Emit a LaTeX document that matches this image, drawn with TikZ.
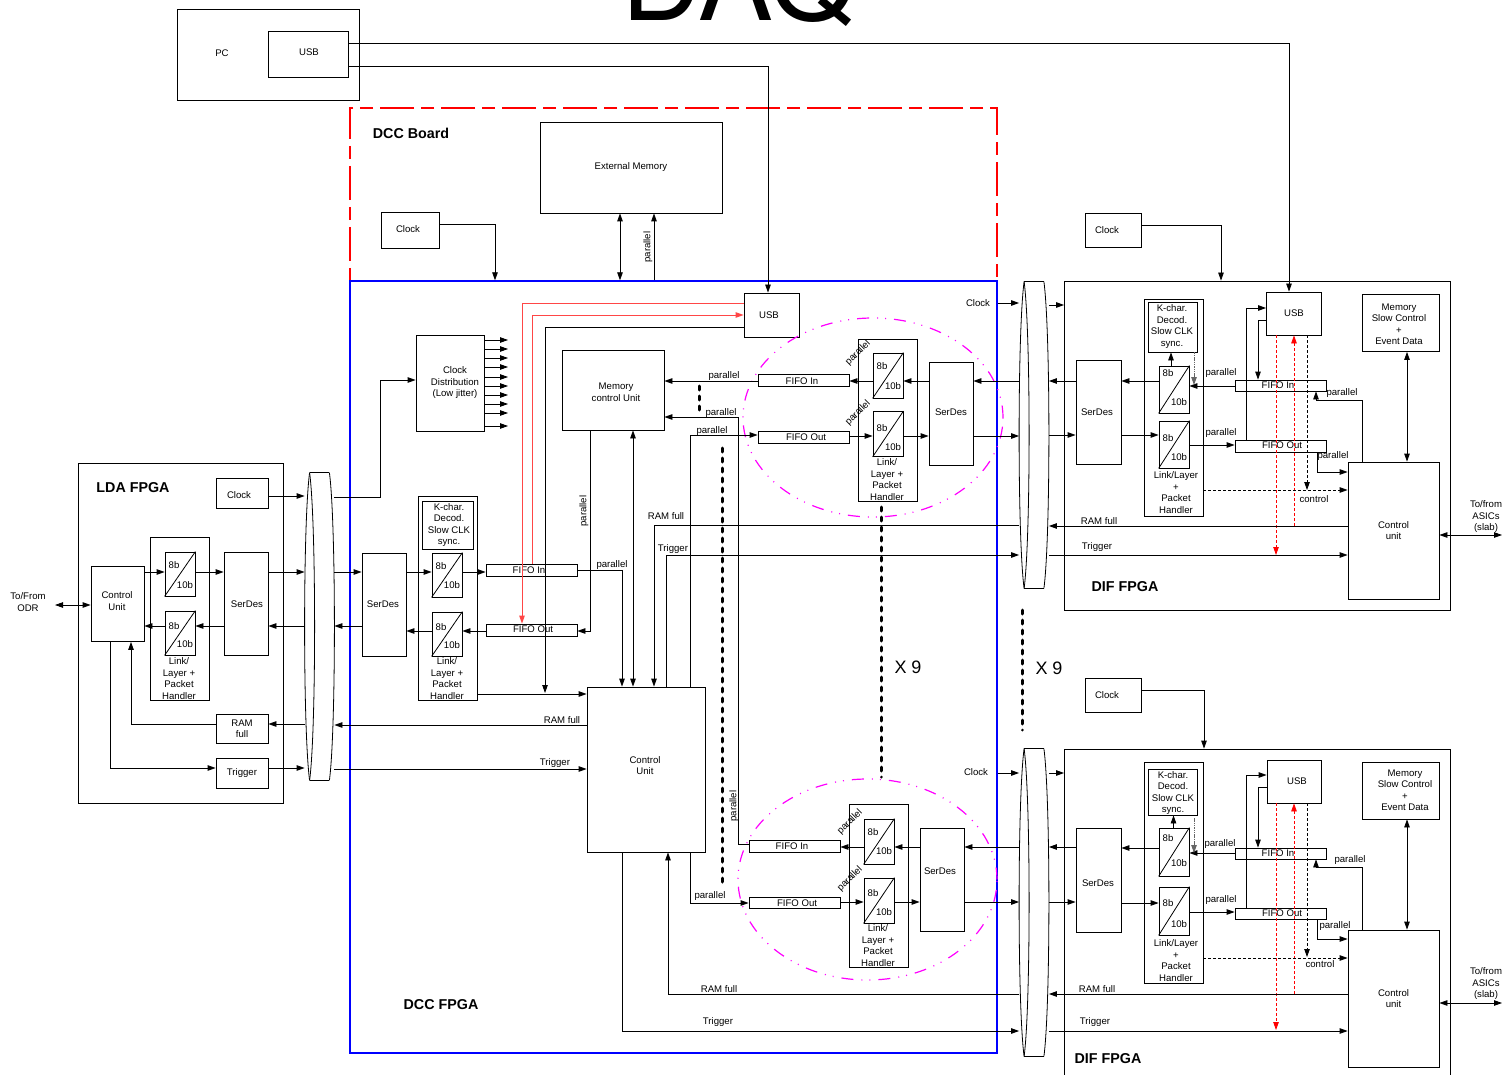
\documentclass[tikz,border=0pt]{standalone}
\usepackage{fontspec}
\setmainfont{Liberation Sans}
\newfontfamily\headfont{TeX Gyre Heros}
\usetikzlibrary{arrows.meta,positioning,shapes.geometric}

\definecolor{ringmag}{RGB}{255,0,255}
\definecolor{boardred}{RGB}{255,0,0}
\definecolor{wirered}{RGB}{255,70,70}
\newcommand{\lblfont}{\fontsize{9.6}{11.5}\selectfont}
\tikzset{
  wh/.style 2 args={minimum width=#1pt, minimum height=#2pt},
  blk/.style={draw, inner sep=0pt, align=center, font=\lblfont},
  lbl/.style={inner sep=0pt, align=center, font=\lblfont},
  title/.style={inner sep=0pt, font=\fontsize{14.3}{16}\selectfont\bfseries},
  times/.style={inner sep=0pt, font=\fontsize{18}{20}\selectfont},
  ring/.style={draw=ringmag, ellipse, inner sep=0pt, line width=1.2pt, dash pattern=on 12pt off 8pt on 1pt off 7pt on 1pt off 8pt},
  dots/.style={-, line width=3pt, line cap=round, dash pattern=on 4pt off 6pt},
  redwire/.style={wirered, line width=0.9pt},
  greywire/.style={black!60, line width=0.9pt, dash pattern=on 1.5pt off 0.8pt},
  reddash/.style={red, dash pattern=on 3pt off 2pt},
  ctrlwire/.style={dash pattern=on 3pt off 2pt},
}
\newcommand{\codec}[6]{%
  \node[blk, wh={30}{#4}] (#1) at (#2,#3) {};
  \draw[-] (#1.south west) -- (#1.north east);
  \node[lbl] (#1a) at ([xshift=-6pt,yshift=#5pt]#1.center) {8b};
  \node[lbl] (#1b) at ([xshift=5pt,yshift=#6pt]#1.center) {10b};
}
\newcommand{\bundle}[3]{%
  \node[wh={29}{#3}, inner sep=0pt] (#1) at (#2) {};
  \draw[-] ([xshift=5pt]#1.north west) .. controls ([xshift=-1.67pt,yshift=-50pt]#1.north west) and ([xshift=-1.67pt,yshift=50pt]#1.south west) .. ([xshift=5pt]#1.south west);
  \draw[-] ([xshift=5pt]#1.north west) .. controls ([xshift=11.67pt,yshift=-50pt]#1.north west) and ([xshift=11.67pt,yshift=50pt]#1.south west) .. ([xshift=5pt]#1.south west);
  \draw[-] ([xshift=-5pt]#1.north east) .. controls ([xshift=1.67pt,yshift=-50pt]#1.north east) and ([xshift=1.67pt,yshift=50pt]#1.south east) .. ([xshift=-5pt]#1.south east);
  \draw[-] ([xshift=5pt]#1.north west) -- ([xshift=-5pt]#1.north east);
  \draw[-] ([xshift=5pt]#1.south west) -- ([xshift=-5pt]#1.south east);
}

\begin{document}
\begin{tikzpicture}[x=1pt, y=-1pt, ->, >={Stealth[length=8pt,width=5.5pt,inset=0pt]}, line width=0.8pt]
\useasboundingbox (0,0) rectangle (1502,1075);
\node[inner sep=0pt, anchor=base, font=\fontsize{112}{112}\selectfont\headfont] (daq) at (739,21) {DAQ};

% PC
\node[blk, wh={182}{91}] (pc) at (268,54.5) {};
\node[lbl] (pctext) at (222,53) {PC};
\node[blk, wh={80}{46}] (pcusb) at (308,54) {};
\node[lbl] (pcusbtext) at (309,52) {USB};

% DCC board
\node[draw=boardred, inner sep=0pt, line width=1.3pt, dash pattern=on 34pt off 7pt on 13pt off 7pt, wh={647}{173}] (board) at (673.5,194.5) {};
\node[draw=blue, inner sep=0pt, line width=1.3pt, wh={647}{772}] (dcc) at (673.5,667) {};
\node[title] (boardtext) at (411,133) {DCC Board};
\node[title] (dcctext) at (441,1005) {DCC FPGA};
\node[blk, wh={182}{91}] (extmem) at (631,167.5) {External Memory};
\node[blk, wh={58}{36}] (clkb) at (410,230) {};
\node[lbl] (clkbtext) at (408,229) {Clock};
\draw (clkb.east |- 0,224) -| (dcc.north -| 495,0);
\draw[<->] (extmem.south -| 620,0) -- (dcc.north -| 620,0);
\draw (dcc.north -| 654,0) -- (extmem.south -| 654,0);
\node[lbl, rotate=90] (parext) at (648,247) {parallel};

% LDA
\node[blk, wh={205}{340}] (lda) at (180.5,633) {};
\node[title] (ldatext) at (133,488) {LDA FPGA};
\node[blk, wh={52}{30}] (clkl) at (242,493) {};
\node[lbl] (clkltext) at (239,495) {Clock};
\node[blk, wh={53}{75}] (ctll) at (117.5,604) {};
\node[lbl] (ctlltext) at (117,601) {Control\\Unit};
\node[lbl] (odr) at (28,602) {To/From\\ODR};
\coordinate (odrend) at (55,605);
\node[blk, wh={59}{163}] (linkl) at (179.5,618.5) {};
\codec{cl1}{180}{574}{44}{9}{-11}
\codec{cl2}{180}{633}{44}{7}{-11}
\node[lbl] (linkltext) at (179,678.5) {Link/\\Layer +\\Packet\\Handler};
\node[blk, wh={44}{103}] (serl) at (246,603.5) {};
\node[lbl] (serltext) at (247,604) {SerDes};
\node[blk, wh={52}{29}] (raml) at (242,728.5) {RAM\\full};
\node[blk, wh={52}{30}] (trgl) at (242,773) {Trigger};
\bundle{busa}{319.5,626.5}{307}

\draw[<->] (odrend) -- (ctll.west |- odrend);
\draw (ctll.east |- 0,572) -- (cl1.west |- 0,572);
\draw (cl1.east |- 0,572) -- (serl.west |- 0,572);
\draw (serl.east |- 0,572) -- (busa.west |- 0,572);
\draw (busa.west |- 0,626) -- (serl.east |- 0,626);
\draw (serl.west |- 0,626) -- (cl2.east |- 0,626);
\draw (cl2.west |- 0,626) -- (ctll.east |- 0,626);
\draw (clkl.east |- 0,496) -- (busa.west |- 0,496);
\draw (busa.west |- 0,724) -- (raml.east |- 0,724);
\draw (raml.west |- 0,724) -| (ctll.south -| 131,0);
\draw (ctll.south -| 110,0) |- (trgl.west |- 0,768);
\draw (trgl.east |- 0,768) -- (busa.west |- 0,768);

% DCC, left side
\node[blk, wh={44}{103}] (serd) at (384,604.5) {};
\node[lbl] (serdtext) at (383,604) {SerDes};
\node[blk, wh={59}{204}] (linkd) at (447.5,598) {};
\node[blk, wh={51}{48}] (kchard) at (447.5,525) {};
\node[lbl] (kchardtext) at (449,525) {K-char.\\Decod.\\Slow CLK\\sync.};
\codec{cd1}{447}{575}{44}{9}{-10}
\codec{cd2}{447}{634}{44}{7}{-11}
\node[lbl] (linkdtext) at (447,678.5) {Link/\\Layer +\\Packet\\Handler};
\node[blk, wh={91}{12}] (fifoid) at (531.5,570) {};
\node[lbl] (fifoidtext) at (529,570) {FIFO In};
\node[blk, wh={91}{12}] (fifood) at (531.5,630) {};
\node[lbl] (fifoodtext) at (533,629.5) {FIFO Out};
\node[blk, wh={68}{96}] (clkdist) at (450,383) {};
\node[lbl] (clkdisttext) at (455,383) {Clock\\Distribution\\(Low jitter)};
\node[blk, wh={102}{80}] (memctl) at (613,390) {};
\node[lbl] (memctltext) at (616,392) {Memory\\control Unit};
\node[blk, wh={118}{165}] (ctld) at (646,769.5) {};
\node[lbl] (ctldtext) at (645,765.5) {Control\\Unit};
\node[blk, wh={55}{44}] (usbd) at (771.5,315) {};
\node[lbl] (usbdtext) at (769,315) {USB};

\draw (busa.east |- 0,572) -- (serd.west |- 0,572);
\draw (serd.west |- 0,626) -- (busa.east |- 0,626);
\draw (serd.east |- 0,572) -- (cd1.west |- 0,572);
\draw (cd1.east |- 0,572) -- (fifoid.west |- 0,572);
\draw (fifood.west |- 0,631) -- (cd2.east |- 0,631);
\draw (cd2.west |- 0,631) -- (serd.east |- 0,631);
\draw (busa.east |- 0,497) -| (380,380) -- (clkdist.west |- 0,380);
\foreach \i/\y in {1/340,2/349,3/358,4/367,5/377,6/386,7/395,8/404,9/413,10/426} {
  \coordinate (clkout\i) at (508,\y);
  \draw (clkdist.east |- clkout\i) -- (clkout\i);
}
\draw (linkd.east |- 0,694) -- (ctld.west |- 0,694);
\draw (ctld.west |- 0,725) -- (busa.east |- 0,725);
\node[lbl] (ramd) at (562,720) {RAM full};
\draw (busa.east |- 0,769) -- (ctld.west |- 0,769);
\node[lbl] (trgd) at (555,763) {Trigger};
\draw (fifoid.east |- 0,570) -| (ctld.north -| 622,0);
\node[lbl] (parfi) at (612,565) {parallel};
\draw (memctl.south -| 590,0) |- (fifood.east |- 0,631);
\node[lbl, rotate=90] (parmem) at (584,511) {parallel};
\draw[<->] (memctl.south -| 633,0) -- (ctld.north -| 633,0);
\draw[redwire] (usbd.west |- 0,303) -| (fifood.north -| 522,0);
\draw[redwire] (fifoid.north -| 532,0) |- (usbd.west |- 0,315);
\draw (usbd.west |- 0,327) -| (545,693);
\draw (pcusb.east |- 0,66) -| (usbd.north -| 768,0);

% upper link on DCC
\node[blk, wh={59}{162}] (linku) at (887.5,420) {};
\codec{cu1}{888}{375.5}{45}{9.5}{-10.5}
\codec{cu2}{888}{434}{45}{6}{-13}
\node[lbl] (linkutext) at (887,479.5) {Link/\\Layer +\\Packet\\Handler};
\node[blk, wh={44}{103}] (seru) at (951,413.5) {};
\node[lbl] (serutext) at (951,412) {SerDes};
\node[blk, wh={91}{12}] (fifoiu) at (803.5,380) {};
\node[lbl] (fifoiutext) at (802,381) {FIFO In};
\node[blk, wh={91}{12}] (fifoou) at (803.5,437) {};
\node[lbl] (fifooutext) at (806,437) {FIFO Out};
\bundle{busb}{1034,435}{306}
\node[ring, wh={260}{199}] (ringu) at (873,417.5) {};

\draw (busb.west |- 0,381) -- (seru.east |- 0,381);
\draw (seru.west |- 0,381) -- (cu1.east |- 0,381);
\draw (cu1.west |- 0,381) -- (fifoiu.east |- 0,381);
\draw (fifoiu.west |- 0,381) -- (memctl.east |- 0,381);
\node[lbl] (paru1) at (724,376) {parallel};
\draw (fifoou.east |- 0,436) -- (cu2.west |- 0,436);
\draw (cu2.east |- 0,436) -- (seru.west |- 0,436);
\draw (seru.east |- 0,436) -- (busb.west |- 0,436);
\node[lbl, rotate=45] (paru2) at (858,353) {parallel};
\node[lbl, rotate=45] (paru3) at (858,413) {parallel};

% lower link on DCC
\node[blk, wh={59}{163}] (linkn) at (878.5,885.5) {};
\codec{cn1}{879}{841.5}{45}{9.5}{-9.5}
\codec{cn2}{879}{900.5}{45}{7.5}{-11.5}
\node[lbl] (linkntext) at (878,945.5) {Link/\\Layer +\\Packet\\Handler};
\node[blk, wh={44}{103}] (sern) at (942,879.5) {};
\node[lbl] (serntext) at (940,871) {SerDes};
\node[blk, wh={91}{12}] (fifoin) at (794.5,846) {};
\node[lbl] (fifointext) at (792,846.5) {FIFO In};
\node[blk, wh={91}{11}] (fifoon) at (794.5,902.5) {};
\node[lbl] (fifoontext) at (797,903) {FIFO Out};
\bundle{busc}{1034,902.5}{307}
\node[ring, wh={259}{201}] (ringn) at (867.5,879.5) {};

\draw (busc.west |- 0,847) -- (sern.east |- 0,847);
\draw (sern.west |- 0,847) -- (cn1.east |- 0,847);
\draw (cn1.west |- 0,847) -- (fifoin.east |- 0,847);
\draw (fifoon.east |- 0,902) -- (cn2.west |- 0,902);
\draw (cn2.east |- 0,902) -- (sern.west |- 0,902);
\draw (sern.east |- 0,902) -- (busc.west |- 0,902);
\node[lbl, rotate=45] (parn2) at (850,822) {parallel};
\node[lbl, rotate=45] (parn3) at (850,879) {parallel};

% DCC wires between links
\draw (fifoin.west |- 0,844) -| (738,417) -- (memctl.east |- 0,417);
\node[lbl] (parw1) at (721,413) {parallel};
\node[lbl, rotate=90] (parw2) at (734,806) {parallel};
\draw (ctld.north -| 690,0) |- (fifoou.west |- 0,435);
\node[lbl] (parw3) at (712,431) {parallel};
\draw (ctld.south -| 690,0) |- (fifoon.west |- 0,903);
\node[lbl] (parw4) at (710,896) {parallel};
\draw (busb.west |- 0,525) -| (ctld.north -| 654,0);
\node[lbl] (ramw1) at (666,516) {RAM full};
\draw (ctld.north -| 666,0) |- (busb.west |- 0,555);
\node[lbl] (trgw1) at (673,549) {Trigger};
\draw (busc.west |- 0,994) -| (ctld.south -| 668,0);
\node[lbl] (ramw2) at (719,989) {RAM full};
\draw (ctld.south -| 622,0) |- (busc.west |- 0,1031);
\node[lbl] (trgw2) at (718,1022) {Trigger};
\draw (dcc.east |- 0,303) -- (busb.west |- 0,303);
\node[lbl] (clkw1) at (978,303) {Clock};
\draw (dcc.east |- 0,773) -- (busc.west |- 0,773);
\node[lbl] (clkw2) at (976,772) {Clock};
\draw[dots] (699,386) -- (699,412);
\draw[dots] (722,448) -- (722,885);
\draw[dots] (881,507) -- (881,777);
\draw[dots] (1022,610) -- (1022,730);
\node[times] (xa) at (908,667) {X 9};
\node[times] (xb) at (1049,668) {X 9};

% DIF, upper
\node[blk, wh={386}{329}] (difu) at (1257.5,445.5) {};
\node[title] (difutext) at (1125,587) {DIF FPGA};
\node[blk, wh={56}{34}] (clku) at (1113,230) {};
\node[lbl] (clkutext) at (1107,230) {Clock};
\node[blk, wh={45}{104}] (seriu) at (1098.5,412) {};
\node[lbl] (seriutext) at (1097,412) {SerDes};
\node[blk, wh={59}{217}] (lnku) at (1173.5,407.5) {};
\node[blk, wh={49}{50}] (kcu) at (1172.5,327) {};
\node[lbl] (kcutext) at (1172,326.5) {K-char.\\Decod.\\Slow CLK\\sync.};
\codec{du1}{1174}{389.5}{47}{16.5}{-12.5}
\codec{du2}{1174}{444.5}{47}{6.5}{-12.5}
\node[lbl] (lnkutext) at (1176,492.5) {Link/Layer\\+\\Packet\\Handler};
\node[blk, wh={91}{11}] (fiu) at (1280.5,385.5) {};
\node[lbl] (fiutext) at (1278,385.5) {FIFO In};
\node[blk, wh={91}{12}] (fou) at (1280.5,446) {};
\node[lbl] (fouttext) at (1282,445) {FIFO Out};
\node[blk, wh={55}{43}] (usbu) at (1294,313.5) {USB};
\node[blk, wh={77}{57}] (memu) at (1400.5,323) {};
\node[lbl] (memutext) at (1399,324) {Memory\\Slow Control\\+\\Event Data};
\node[blk, wh={91}{137}] (ctlu) at (1393.5,530.5) {Control\\unit};
\node[lbl] (asu) at (1486,517) {To/from\\ASICs\\(slab)};
\coordinate (asuend) at (1502,535);

\draw (clku.east |- 0,225) -| (difu.north -| 1221,0);
\draw (pcusb.east |- 0,43) -| (usbu.north -| 1289,0);
\draw (busb.east |- 0,305) -- (difu.west |- 0,305);
\draw (seriu.west |- 0,381) -- (busb.east |- 0,381);
\draw (busb.east |- 0,435) -- (seriu.west |- 0,435);
\draw (du1.west |- 0,381) -- (seriu.east |- 0,381);
\draw (seriu.east |- 0,435) -- (du2.west |- 0,435);
\draw (fiu.west |- 0,386) -- (du1.east |- 0,386);
\node[lbl] (pard1) at (1221,373) {parallel};
\draw (du2.east |- 0,445) -- (fou.west |- 0,445);
\node[lbl] (pard2) at (1221,433) {parallel};
\draw (du1.north -| 1171,0) -- (kcu.south -| 1171,0);
\draw[greywire] (kcu.south -| 1194,0) -- (1194,385);
\draw (fou.north -| 1246,0) |- (usbu.west |- 0,308);
\draw (usbu.west |- 0,320) -| (fiu.north -| 1258,0);
\draw[reddash] (usbu.south -| 1276,0) -- (1276,555);
\draw[reddash] (1294,526) -- (usbu.south -| 1294,0);
\draw[ctrlwire] (usbu.south -| 1307,0) -- (1307,490);
\draw[ctrlwire] (lnku.east |- 0,490) -- (ctlu.west |- 0,490);
\node[lbl] (ctxt1) at (1314,499) {control};
\draw (ctlu.west |- 0,526) -- (busb.east |- 0,526);
\node[lbl] (ramd1) at (1099,521) {RAM full};
\draw (busb.east |- 0,555) -- (ctlu.west |- 0,555);
\node[lbl] (trgd1) at (1097,547) {Trigger};
\draw[<->] (memu.south -| 1407,0) -- (ctlu.north -| 1407,0);
\draw (ctlu.north -| 1362,0) |- (1316,400) -- (fiu.south -| 1316,0);
\node[lbl] (pard3) at (1342,393) {parallel};
\draw (fou.south -| 1317,0) |- (ctlu.west |- 0,472);
\node[lbl] (pard4) at (1333,456) {parallel};
\draw[<->] (ctlu.east |- asuend) -- (asuend);

% DIF, lower
\node[blk, wh={386}{340}] (difn) at (1257.5,919) {};
\node[title] (difntext) at (1108,1059) {DIF FPGA};
\node[blk, wh={56}{34}] (clkn) at (1113,695) {};
\node[lbl] (clkntext) at (1107,695) {Clock};
\node[blk, wh={45}{104}] (serin) at (1098.5,880) {};
\node[lbl] (serintext) at (1098,883) {SerDes};
\node[blk, wh={59}{221}] (lnkn) at (1173.5,872.5) {};
\node[blk, wh={49}{46}] (kcn) at (1172.5,792) {};
\node[lbl] (kcntext) at (1173,793) {K-char.\\Decod.\\Slow CLK\\sync.};
\codec{dn1}{1174}{852}{48}{14}{-11}
\codec{dn2}{1174}{911}{48}{8}{-13}
\node[lbl] (lnkntext) at (1176,960.5) {Link/Layer\\+\\Packet\\Handler};
\node[blk, wh={91}{11}] (fin) at (1280.5,853.5) {};
\node[lbl] (fintext) at (1278,853.5) {FIFO In};
\node[blk, wh={91}{11}] (fon) at (1280.5,913.5) {};
\node[lbl] (fontext) at (1282,913) {FIFO Out};
\node[blk, wh={54}{43}] (usbn) at (1294,781.5) {};
\node[lbl] (usbntext) at (1297,781) {USB};
\node[blk, wh={77}{57}] (memn) at (1400.5,790.5) {};
\node[lbl] (memntext) at (1405,790) {Memory\\Slow Control\\+\\Event Data};
\node[blk, wh={91}{137}] (ctln) at (1393.5,998.5) {Control\\unit};
\node[lbl] (asn) at (1486,984) {To/from\\ASICs\\(slab)};
\coordinate (asnend) at (1502,1003);

\draw (clkn.east |- 0,690) -| (difn.north -| 1204,0);
\draw (busc.east |- 0,773) -- (difn.west |- 0,773);
\draw (serin.west |- 0,847) -- (busc.east |- 0,847);
\draw (busc.east |- 0,902) -- (serin.west |- 0,902);
\draw (dn1.west |- 0,848) -- (serin.east |- 0,848);
\draw (serin.east |- 0,903) -- (dn2.west |- 0,903);
\draw (fin.west |- 0,853) -- (dn1.east |- 0,853);
\node[lbl] (parc1) at (1220,844) {parallel};
\draw (dn2.east |- 0,912) -- (fon.west |- 0,912);
\node[lbl] (parc2) at (1221,900) {parallel};
\draw (dn1.north -| 1173.5,0) -- (kcn.south -| 1173.5,0);
\draw[greywire] (1194,818) -- (1194,853);
\draw (fon.north -| 1246,0) |- (usbn.west |- 0,775);
\draw (usbn.west |- 0,787) -| (fin.north -| 1258,0);
\draw[reddash] (usbn.south -| 1276,0) -- (1276,1030);
\draw[reddash] (1294,994) -- (usbn.south -| 1294,0);
\draw[ctrlwire] (usbn.south -| 1307,0) -- (1307,957);
\draw[ctrlwire] (lnkn.east |- 0,958) -- (ctln.west |- 0,958);
\node[lbl] (ctxt2) at (1320,964) {control};
\draw (ctln.west |- 0,994) -- (busc.east |- 0,994);
\node[lbl] (ramd2) at (1097,989) {RAM full};
\draw (busc.east |- 0,1031) -- (ctln.west |- 0,1031);
\node[lbl] (trgd2) at (1095,1022) {Trigger};
\draw[<->] (memn.south -| 1407,0) -- (ctln.north -| 1407,0);
\draw (ctln.north -| 1362,0) |- (1316,867) -- (fin.south -| 1316,0);
\node[lbl] (parc3) at (1350,860) {parallel};
\draw (fon.south -| 1317,0) |- (ctln.west |- 0,939);
\node[lbl] (parc4) at (1335,926) {parallel};
\draw[<->] (ctln.east |- asnend) -- (asnend);
\end{tikzpicture}
\end{document}
